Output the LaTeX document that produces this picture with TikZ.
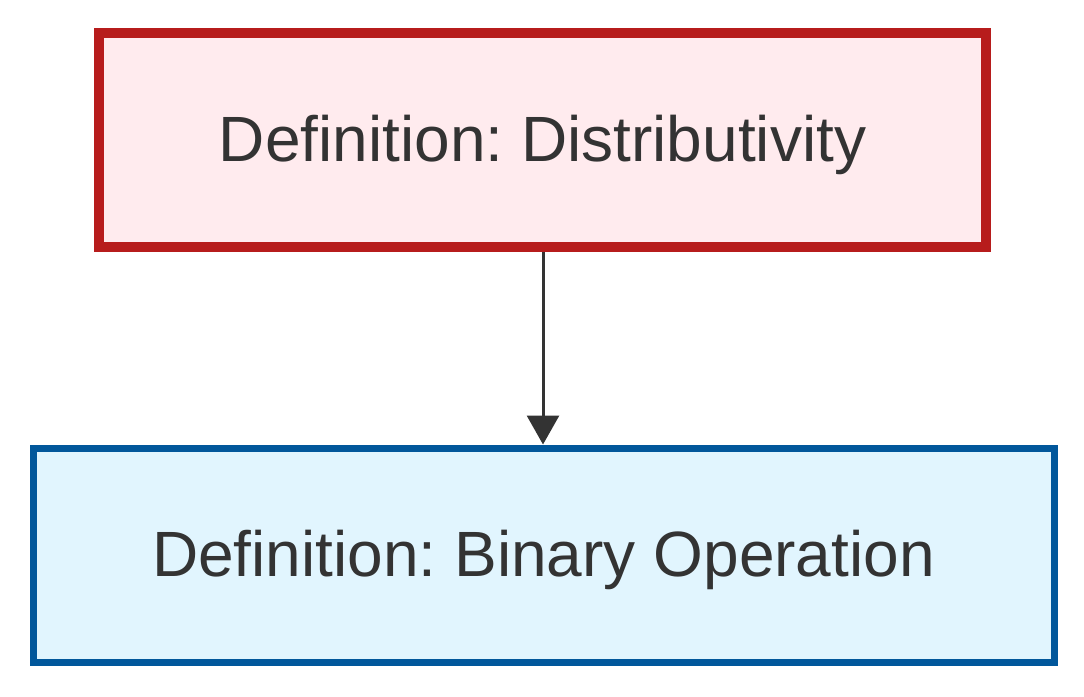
\documentclass[tikz,border=0pt]{standalone}
\usepackage{fontspec}
\setmainfont{Liberation Sans}
\usetikzlibrary{arrows.meta}
\frenchspacing
\definecolor{redfill}{HTML}{FFEBEE}
\definecolor{redline}{HTML}{B71C1C}
\definecolor{bluefill}{HTML}{E1F5FE}
\definecolor{blueline}{HTML}{01579B}
\definecolor{txt}{HTML}{333333}
\tikzset{
  defbox/.style={draw, inner sep=0pt, text=txt, font=\fontsize{64}{76}\selectfont\frenchspacing, minimum height=214pt, text height=46pt, text depth=4pt},
  redbox/.style={defbox, draw=redline, fill=redfill, line width=10pt, minimum width=887pt},
  bluebox/.style={defbox, draw=blueline, fill=bluefill, line width=7pt, minimum width=1021pt},
  link/.style={txt, line width=3pt, -{Triangle[length=29pt,width=32pt]}},
}
\begin{document}
\begin{tikzpicture}[x=1pt,y=-1pt]
\useasboundingbox (0,0) rectangle (1084,696);
\node[redbox] (top) at (542.5,140) {Definition: Distributivity};
\node[bluebox] (bot) at (543.5,555) {Definition: Binary Operation};
\draw[link] (top.south -| 543,0) -- (bot.north -| 543,0);
\end{tikzpicture}
\end{document}
